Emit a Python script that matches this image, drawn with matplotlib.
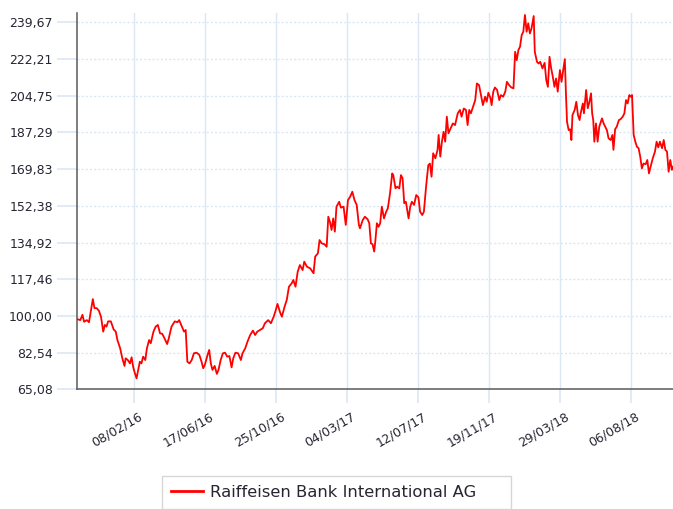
import datetime as dt
import matplotlib
matplotlib.use('Agg')
import matplotlib.pyplot as plt
import matplotlib.dates as mdates
import matplotlib.transforms as mtransforms

# price series: day offset from start date, closing price
start = dt.date(2015, 10, 26)
days = [0, 6, 10, 13, 18, 22, 27, 29, 32, 36, 40, 44, 48, 51, 54, 57, 62, 67, 71, 74,
        79, 83, 87, 89, 93, 97, 100, 103, 106, 109, 112, 115, 118, 121, 125, 128, 132, 135, 140, 144,
        148, 152, 156, 161, 165, 168, 173, 179, 184, 187, 192, 196, 199, 202, 206, 210, 214, 219, 224, 228,
        231, 234, 239, 242, 245, 248, 252, 256, 259, 263, 267, 271, 275, 279, 283, 286, 290, 295, 300, 303,
        308, 312, 317, 322, 326, 330, 335, 340, 344, 350, 355, 360, 363, 367, 372, 375, 380, 384, 388, 393,
        396, 400, 404, 408, 413, 416, 421, 427, 433, 436, 441, 444, 448, 453, 457, 460, 463, 466, 469, 472,
        475, 480, 483, 488, 492, 496, 500, 504, 508, 512, 516, 518, 523, 527, 532, 535, 538, 541, 544, 546,
        549, 552, 555, 558, 562, 566, 569, 573, 577, 579, 583, 586, 590, 593, 596, 599, 602, 607, 610, 613,
        617, 621, 625, 628, 632, 635, 639, 643, 646, 649, 652, 656, 660, 662, 665, 668, 671, 674, 677, 680,
        684, 688, 692, 697, 701, 704, 708, 712, 715, 718, 721, 725, 729, 732, 736, 740, 743, 747, 750, 753,
        757, 759, 762, 765, 769, 773, 776, 780, 784, 787, 791, 795, 799, 802, 805, 808, 811, 814, 817, 820,
        823, 826, 829, 832, 836, 838, 842, 845, 848, 852, 856, 859, 862, 865, 868, 871, 874, 877, 880, 884,
        887, 890, 893, 895, 897, 900, 903, 905, 907, 911, 914, 917, 920, 922, 926, 928, 932, 935, 938, 941,
        943, 945, 947, 950, 953, 956, 961, 964, 967, 970, 973, 977, 980, 982, 985, 988, 992, 995, 999, 1002,
        1005, 1008, 1011, 1014, 1016, 1019, 1022, 1025, 1028, 1031, 1034, 1037, 1041, 1044, 1047, 1050, 1054, 1058, 1061, 1064,
        1067, 1071, 1074, 1077, 1080, 1083, 1086, 1089, 1091]
prices = [98.5, 98.0, 100.5, 97.2, 98.0, 97.0, 105.0, 108.0, 103.7, 103.7, 102.5, 99.6, 92.5, 95.7, 94.9, 97.4, 97.4, 93.6, 92.5, 88.5,
          84.6, 79.8, 76.2, 79.8, 79.0, 77.4, 80.3, 75.5, 72.7, 70.3, 74.3, 78.2, 77.4, 80.6, 79.0, 84.6, 88.5, 87.0, 92.5, 94.9,
          95.7, 91.7, 91.5, 88.9, 86.6, 89.3, 94.9, 97.4, 97.0, 98.0, 94.9, 92.5, 93.3, 78.2, 77.4, 79.0, 82.2, 82.5, 81.4, 78.2,
          75.1, 76.7, 81.4, 83.8, 77.4, 74.3, 76.2, 72.4, 74.3, 79.0, 82.2, 82.5, 80.6, 80.9, 75.5, 79.8, 82.5, 82.2, 79.0, 82.2,
          84.6, 87.7, 90.9, 93.0, 90.9, 92.5, 93.3, 94.1, 96.5, 98.0, 96.5, 99.6, 102.0, 105.7, 101.5, 99.6, 104.4, 107.6, 113.9, 115.5,
          117.1, 113.9, 121.0, 124.2, 121.8, 125.8, 123.4, 122.6, 120.3, 128.2, 129.8, 136.1, 134.5, 134.1, 132.9, 147.2, 144.8, 140.9, 146.4, 140.1,
          152.0, 154.3, 151.5, 152.0, 143.3, 155.1, 156.7, 159.1, 155.1, 152.8, 143.3, 141.7, 145.6, 147.2, 146.0, 144.1, 134.5, 134.1, 130.6, 135.3,
          144.1, 142.4, 144.1, 152.0, 146.4, 149.6, 151.2, 158.3, 167.8, 167.0, 160.7, 161.5, 160.7, 167.0, 165.5, 153.6, 154.3, 146.4, 152.0, 154.3,
          152.8, 157.5, 156.4, 149.6, 148.0, 149.6, 161.5, 171.7, 172.5, 166.2, 177.4, 175.0, 179.0, 186.1, 175.8, 182.9, 187.6, 182.9, 194.8, 186.9,
          189.2, 191.6, 190.8, 196.4, 198.0, 194.8, 198.7, 198.0, 190.8, 198.0, 196.4, 199.5, 202.7, 210.6, 209.8, 204.3, 200.3, 204.3, 201.9, 206.2,
          203.5, 200.3, 206.7, 208.7, 207.5, 202.7, 205.1, 204.3, 206.7, 211.4, 209.8, 208.7, 208.3, 225.7, 221.7, 226.5, 228.1, 233.6, 235.2, 243.2,
          235.2, 239.2, 234.4, 236.8, 242.7, 225.7, 220.9, 220.1, 220.9, 217.8, 220.4, 212.2, 209.0, 223.3, 217.8, 213.8, 209.0, 213.0, 206.7, 217.0,
          211.4, 217.0, 222.2, 205.9, 192.4, 188.4, 188.8, 183.7, 195.6, 198.0, 201.9, 195.6, 193.2, 196.4, 201.1, 196.4, 207.5, 198.8, 201.9, 205.9,
          196.4, 193.2, 182.9, 191.6, 182.9, 190.0, 194.0, 191.6, 190.0, 188.4, 184.5, 183.7, 186.1, 179.0, 188.8, 190.0, 193.2, 193.6, 194.8, 196.4,
          202.7, 201.1, 205.1, 204.3, 205.1, 186.1, 182.9, 180.5, 179.8, 175.8, 170.2, 172.5, 172.2, 174.2, 167.8, 171.0, 175.0, 178.2, 182.9, 180.2,
          182.9, 179.8, 183.7, 179.0, 178.2, 168.6, 174.2, 169.5, 171.0]

ytick_values = [65.08, 82.54, 100.00, 117.46, 134.92, 152.38, 169.83, 187.29, 204.75, 222.21, 239.67]
xtick_dates = ['2016-02-08', '2016-06-17', '2016-10-25', '2017-03-04',
               '2017-07-12', '2017-11-19', '2018-03-29', '2018-08-06']
series_name = 'Raiffeisen Bank International AG'

dates = [start + dt.timedelta(days=d) for d in days]
grid_col = '#dbe7f5'
text_col = '#262633'

fig = plt.figure(figsize=(6.73, 5.09), dpi=100)
ax = fig.add_axes([0.1144, 0.2352, 0.8856, 0.7387])

ax.plot(dates, prices, color='#ff0000', lw=1.3, zorder=3, label=series_name)

ax.set_ylim(65.08, 244.0)
ax.set_xlim(start, start + dt.timedelta(days=1091))

ax.set_yticks(ytick_values)
ax.set_yticklabels([f'{v:.2f}'.replace('.', ',') for v in ytick_values])
xt = [dt.datetime.strptime(s, '%Y-%m-%d').date() for s in xtick_dates]
ax.set_xticks(xt)
ax.xaxis.set_major_formatter(mdates.DateFormatter('%d/%m/%y'))

ax.grid(axis='y', color=grid_col, lw=1.0, ls=(0, (1.5, 1.5)), zorder=0)
ax.grid(axis='x', color=grid_col, lw=1.0, ls='-', zorder=0)

for s in ['top', 'right']:
    ax.spines[s].set_visible(False)
for s in ['left', 'bottom']:
    ax.spines[s].set_color('#5a5a5a')
    ax.spines[s].set_linewidth(1.1)

ax.tick_params(axis='y', length=14.4, width=1.2, color=grid_col, pad=3,
               labelsize=9, labelcolor=text_col)
ax.tick_params(axis='x', length=10, width=1.2, color=grid_col, pad=5,
               labelsize=9, labelcolor=text_col)

shift = mtransforms.ScaledTranslation(4 / 100, 0, fig.dpi_scale_trans)
for lab in ax.get_xticklabels():
    lab.set_rotation(30)
    lab.set_ha('right')
    lab.set_va('top')
    lab.set_rotation_mode('anchor')
    lab.set_transform(lab.get_transform() + shift)

leg = fig.legend(loc='upper center', bbox_to_anchor=(161.7 / 673, 0, 349 / 673, 0.0648),
                 mode='expand', borderaxespad=0, fontsize=11.8, handlelength=1.95,
                 handletextpad=0.43, borderpad=0.55, fancybox=False, frameon=True)
leg.get_frame().set_edgecolor('#cccccc')
leg.get_frame().set_linewidth(1.0)
for t in leg.get_texts():
    t.set_color(text_col)
for h in leg.get_lines():
    h.set_linewidth(2.0)

fig.savefig('out.png', dpi=100)
